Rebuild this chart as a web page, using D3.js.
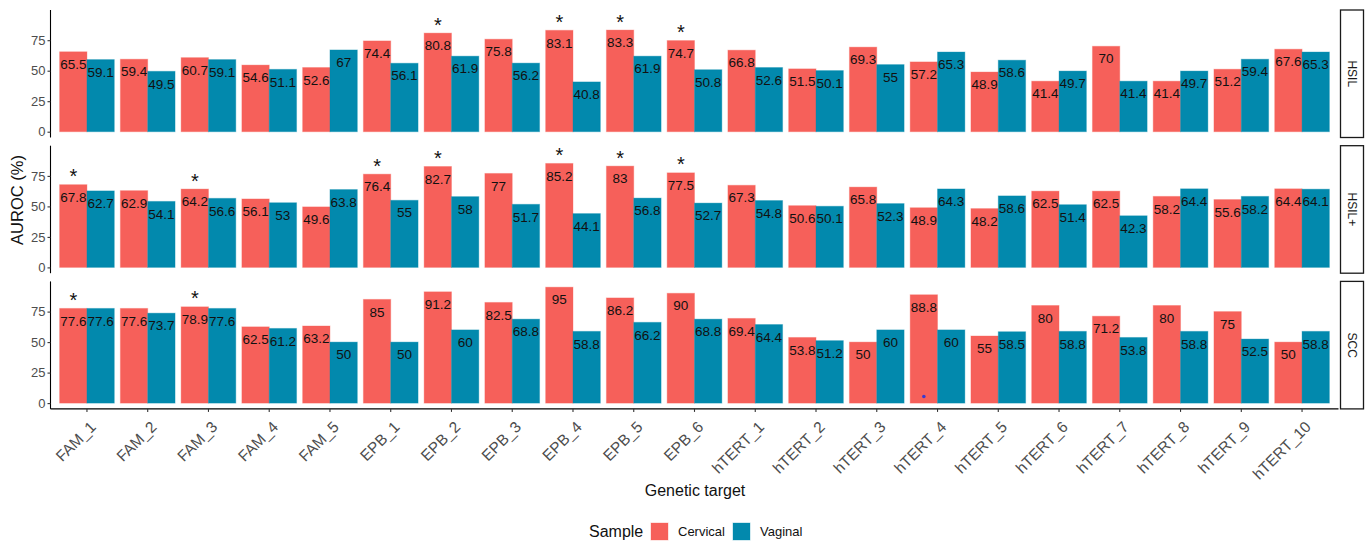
<!DOCTYPE html>
<html>
<head>
<meta charset="utf-8">
<script src="https://cdn.jsdelivr.net/npm/d3@7"></script>
<style>
  html, body { margin: 0; padding: 0; background: #fff; }
  svg { display: block; font-family: "Liberation Sans", Arial, Helvetica, sans-serif; }
</style>
</head>
<body>
<svg id="chart" width="1370" height="542"></svg>
<script>
// Genetic targets on the x axis
const targets = ["FAM_1","FAM_2","FAM_3","FAM_4","FAM_5",
  "EPB_1","EPB_2","EPB_3","EPB_4","EPB_5","EPB_6",
  "hTERT_1","hTERT_2","hTERT_3","hTERT_4","hTERT_5","hTERT_6","hTERT_7","hTERT_8","hTERT_9","hTERT_10"];

const samples = ["Cervical", "Vaginal"];
const panels = ["HSIL", "HSIL+", "SCC"];
const yTicks = [0, 25, 50, 75];

// AUROC (%) per panel and sample type
const hsilCervical = [65.5,59.4,60.7,54.6,52.6,74.4,80.8,75.8,83.1,83.3,74.7,66.8,51.5,69.3,57.2,48.9,41.4,70,41.4,51.2,67.6];
const hsilVaginal  = [59.1,49.5,59.1,51.1,67,56.1,61.9,56.2,40.8,61.9,50.8,52.6,50.1,55,65.3,58.6,49.7,41.4,49.7,59.4,65.3];
const hsilPlusCervical = [67.8,62.9,64.2,56.1,49.6,76.4,82.7,77,85.2,83,77.5,67.3,50.6,65.8,48.9,48.2,62.5,62.5,58.2,55.6,64.4];
const hsilPlusVaginal  = [62.7,54.1,56.6,53,63.8,55,58,51.7,44.1,56.8,52.7,54.8,50.1,52.3,64.3,58.6,51.4,42.3,64.4,58.2,64.1];
const sccCervical = [77.6,77.6,78.9,62.5,63.2,85,91.2,82.5,95,86.2,90,69.4,53.8,50,88.8,55,80,71.2,80,75,50];
const sccVaginal  = [77.6,73.7,77.6,61.2,50,50,60,68.8,58.8,66.2,68.8,64.4,51.2,60,60,58.5,58.8,53.8,58.8,52.5,58.8];

// Targets whose cervical AUROC is marked as significant
const hsilStars = ["EPB_2","EPB_4","EPB_5","EPB_6"];
const hsilPlusStars = ["FAM_1","FAM_3","EPB_1","EPB_2","EPB_4","EPB_5","EPB_6"];
const sccStars = ["FAM_1","FAM_3"];

// Small point mark inside the SCC panel
const dotPanel = ["SCC"];
const dotTarget = ["hTERT_4"];
const dotValue = [5.4];

const values = {
  "HSIL":  { Cervical: hsilCervical, Vaginal: hsilVaginal },
  "HSIL+": { Cervical: hsilPlusCervical, Vaginal: hsilPlusVaginal },
  "SCC":   { Cervical: sccCervical, Vaginal: sccVaginal }
};
const stars = { "HSIL": hsilStars, "HSIL+": hsilPlusStars, "SCC": sccStars };

const colors = { Cervical: "#F6605A", Vaginal: "#0289AD" };

const svg = d3.select("#chart");

// Layout of the faceted plot area
const left = 50.5, right = 1338.5;
const panelTop0 = 10, panelH = 127.5, panelStep = 135.7;
const stripX = 1340.5, stripW = 23;

const x = d3.scaleBand().domain(targets).range([left, right]).paddingInner(0.1).paddingOuter(0.15);
const xs = d3.scaleBand().domain(samples).range([0, x.bandwidth()]);

panels.forEach((p, i) => {
  const top = panelTop0 + i * panelStep;
  const y = d3.scaleLinear().domain([-4.75, 99.75]).range([top + panelH, top]);
  const g = svg.append("g");

  // bars
  samples.forEach(s => {
    g.selectAll(null)
      .data(targets.map((t, k) => ({ t, v: values[p][s][k] })))
      .join("rect")
      .attr("x", d => x(d.t) + xs(s))
      .attr("y", d => y(d.v))
      .attr("width", xs.bandwidth())
      .attr("height", d => y(0) - y(d.v))
      .attr("fill", colors[s])
      .attr("stroke", colors[s])
      .attr("stroke-opacity", 0.35)
      .attr("stroke-width", 1);
  });

  // value labels just inside the top of each bar
  samples.forEach(s => {
    g.selectAll(null)
      .data(targets.map((t, k) => ({ t, v: values[p][s][k] })))
      .join("text")
      .attr("x", d => x(d.t) + xs(s) + xs.bandwidth() / 2)
      .attr("y", d => y(d.v) + 12.7)
      .attr("text-anchor", "middle")
      .attr("dominant-baseline", "central")
      .attr("font-size", 13.5)
      .attr("fill", "#111")
      .text(d => d3.format("")(d.v));
  });

  // significance asterisks above the cervical bar
  g.selectAll(null)
    .data(stars[p].map(t => ({ t, v: values[p].Cervical[targets.indexOf(t)] })))
    .join("text")
    .attr("x", d => x(d.t) + xs("Cervical") + xs.bandwidth() / 2)
    .attr("y", d => y(d.v) - 1.5)
    .attr("text-anchor", "middle")
    .attr("font-size", 20)
    .attr("fill", "#111")
    .text("*");

  // point marks
  dotPanel.forEach((dp, k) => {
    if (dp !== p) return;
    g.append("circle")
      .attr("cx", x(dotTarget[k]) + xs("Cervical") + xs.bandwidth() / 2)
      .attr("cy", y(dotValue[k]))
      .attr("r", 1.8)
      .attr("fill", "#3a3ad0");
  });

  // y axis
  const yAxis = d3.axisLeft(y).tickValues(yTicks).tickSize(3).tickPadding(2);
  const ya = g.append("g").attr("transform", `translate(${left},0)`).call(yAxis);
  ya.select(".domain").attr("stroke", "#000").attr("stroke-width", 1.1)
    .attr("d", `M0,${top}V${top + panelH}`);
  ya.selectAll(".tick line").attr("stroke", "#333").attr("stroke-width", 1.1);
  ya.selectAll(".tick text").attr("font-size", 13).attr("fill", "#4D4D4D")
    .attr("font-family", "Liberation Sans, Arial, sans-serif");

  // facet strip
  g.append("rect")
    .attr("x", stripX).attr("y", top)
    .attr("width", stripW).attr("height", panelH)
    .attr("fill", "#fff").attr("stroke", "#1a1a1a").attr("stroke-width", 1.3);
  g.append("text")
    .attr("transform", `translate(${stripX + stripW / 2},${top + panelH / 2}) rotate(90)`)
    .attr("text-anchor", "middle")
    .attr("dominant-baseline", "central")
    .attr("font-size", 12)
    .attr("fill", "#1A1A1A")
    .text(p);

  // x axis on the bottom panel
  if (i === panels.length - 1) {
    const xAxis = d3.axisBottom(x).tickSize(3).tickPadding(2);
    const xa = g.append("g").attr("transform", `translate(0,${top + panelH})`).call(xAxis);
    xa.select(".domain").attr("stroke", "#000").attr("stroke-width", 1.1)
      .attr("d", `M${left},0H${right}`);
    xa.selectAll(".tick line").attr("stroke", "#333").attr("stroke-width", 1.1);
    xa.selectAll(".tick text")
      .attr("font-size", 15.5).attr("fill", "#4D4D4D")
      .attr("font-family", "Liberation Sans, Arial, sans-serif")
      .attr("text-anchor", "end")
      .attr("dy", null)
      .attr("y", null)
      .attr("transform", "translate(2,11) rotate(-45)")
      .attr("dominant-baseline", "hanging");
  }
});

// axis titles
svg.append("text")
  .attr("x", 695).attr("y", 496)
  .attr("text-anchor", "middle")
  .attr("font-size", 16).attr("fill", "#111")
  .text("Genetic target");

svg.append("text")
  .attr("transform", "translate(23,200) rotate(-90)")
  .attr("text-anchor", "middle")
  .attr("font-size", 16.5).attr("fill", "#111")
  .text("AUROC (%)");

// legend
const legend = svg.append("g");
legend.append("text")
  .attr("x", 589).attr("y", 537)
  .attr("font-size", 16).attr("fill", "#111")
  .text("Sample");
const keyX = [651, 733];
samples.forEach((s, k) => {
  legend.append("rect")
    .attr("x", keyX[k]).attr("y", 523)
    .attr("width", 17).attr("height", 17)
    .attr("fill", colors[s])
    .attr("stroke", colors[s]).attr("stroke-opacity", 0.35);
  legend.append("text")
    .attr("x", keyX[k] + 27).attr("y", 536)
    .attr("font-size", 13).attr("fill", "#111")
    .text(s);
});
</script>
</body>
</html>
